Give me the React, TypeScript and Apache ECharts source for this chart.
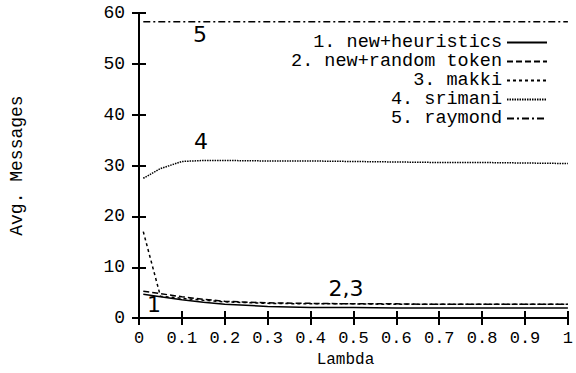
import React, { useEffect, useRef } from "react";
import * as echarts from "echarts";

const lambdas = [0.01, 0.05, 0.1, 0.15, 0.2, 0.3, 0.4, 0.5, 0.6, 0.7, 0.8, 0.9, 1.0];
const seriesNames = [
  "1. new+heuristics",
  "2. new+random token",
  "3. makki",
  "4. srimani",
  "5. raymond",
];
const heuristics = [4.7, 4.2, 3.6, 3.1, 2.7, 2.3, 2.1, 2.1, 2.0, 2.0, 2.0, 2.0, 2.0];
const randomToken = [5.3, 4.8, 4.2, 3.7, 3.3, 3.0, 2.9, 2.8, 2.8, 2.7, 2.7, 2.7, 2.7];
const makki = [17.0, 4.3, 3.9, 3.5, 3.2, 2.9, 2.8, 2.8, 2.7, 2.7, 2.7, 2.7, 2.7];
const srimani = [27.5, 29.4, 30.8, 31.0, 31.0, 30.9, 30.9, 30.8, 30.7, 30.6, 30.6, 30.5, 30.4];
const raymond = [58.3, 58.3, 58.3, 58.3, 58.3, 58.3, 58.3, 58.3, 58.3, 58.3, 58.3, 58.3, 58.3];
const dashTypes: any[] = ["solid", [6, 3], [3, 3], [1.5, 1], [7, 3, 2, 3]];
const allValues = [heuristics, randomToken, makki, srimani, raymond];

const annotations = [
  { text: "5", x: 200, y: 34 },
  { text: "4", x: 201, y: 141 },
  { text: "2,3", x: 346, y: 288 },
  { text: "1", x: 154, y: 304 },
];

const MONO = "'Liberation Mono', 'DejaVu Sans Mono', monospace";

export default function App() {
  const ref = useRef<HTMLDivElement>(null);
  useEffect(() => {
    if (!ref.current) return;
    const chart = echarts.init(ref.current, null, { renderer: "svg" });
    const axisLine = { show: true, lineStyle: { color: "#000", width: 2 } };
    const tick = { show: true, inside: true, length: 7, lineStyle: { color: "#000", width: 2 } };
    chart.setOption({
      animation: false,
      backgroundColor: "#fff",
      grid: { left: 139, right: 3, top: 13, bottom: 52 },
      legend: {
        orient: "vertical",
        right: 28,
        top: 33,
        padding: 0,
        align: "right",
        itemWidth: 40,
        itemHeight: 10,
        itemGap: 0,
        selectedMode: false,
        itemStyle: { opacity: 0 },
        data: seriesNames,
        textStyle: {
          fontFamily: MONO,
          fontSize: 18.5,
          color: "#000",
          lineHeight: 19,
          width: 205,
          align: "right",
        },
      },
      xAxis: [
        {
          type: "value",
          min: 0,
          max: 1,
          interval: 0.1,
          position: "bottom",
          axisLine,
          axisTick: tick,
          splitLine: { show: false },
          axisLabel: { fontFamily: MONO, fontSize: 17, color: "#000", margin: 12 },
          name: "Lambda",
          nameLocation: "middle",
          nameGap: 22,
          nameTextStyle: { fontFamily: MONO, fontSize: 16, color: "#000", padding: [0, 16, 0, 0] },
        },
        {
          type: "value",
          min: 0,
          max: 1,
          interval: 0.1,
          position: "top",
          axisLine,
          axisTick: tick,
          splitLine: { show: false },
          axisLabel: { show: false },
        },
      ],
      yAxis: [
        {
          type: "value",
          min: 0,
          max: 60,
          interval: 10,
          position: "left",
          axisLine,
          axisTick: tick,
          splitLine: { show: false },
          axisLabel: { fontFamily: MONO, fontSize: 18, color: "#000", margin: 14 },
          name: "Avg. Messages",
          nameLocation: "middle",
          nameGap: 113,
          nameRotate: 90,
          nameTextStyle: { fontFamily: MONO, fontSize: 18, color: "#000" },
        },
        {
          type: "value",
          min: 0,
          max: 60,
          interval: 10,
          position: "right",
          axisLine,
          axisTick: tick,
          splitLine: { show: false },
          axisLabel: { show: false },
        },
      ],
      series: seriesNames.map((name, i) => ({
        name,
        type: "line",
        xAxisIndex: 0,
        yAxisIndex: 0,
        symbol: "none",
        data: lambdas.map((l, j) => [l, allValues[i][j]]),
        lineStyle: { color: "#000", width: 1.5, type: dashTypes[i] },
        itemStyle: { color: "#000" },
      })),
      graphic: annotations.map((a) => ({
        type: "text",
        x: a.x,
        y: a.y,
        style: {
          text: a.text,
          fontFamily: "'DejaVu Sans', sans-serif",
          fontSize: 22,
          fill: "#000",
          align: "center",
          verticalAlign: "middle",
        },
      })),
    });
    return () => chart.dispose();
  }, []);
  return (
    <div
      ref={ref}
      style={{ position: "fixed", left: 0, top: 0, width: 576, height: 373 }}
    />
  );
}
